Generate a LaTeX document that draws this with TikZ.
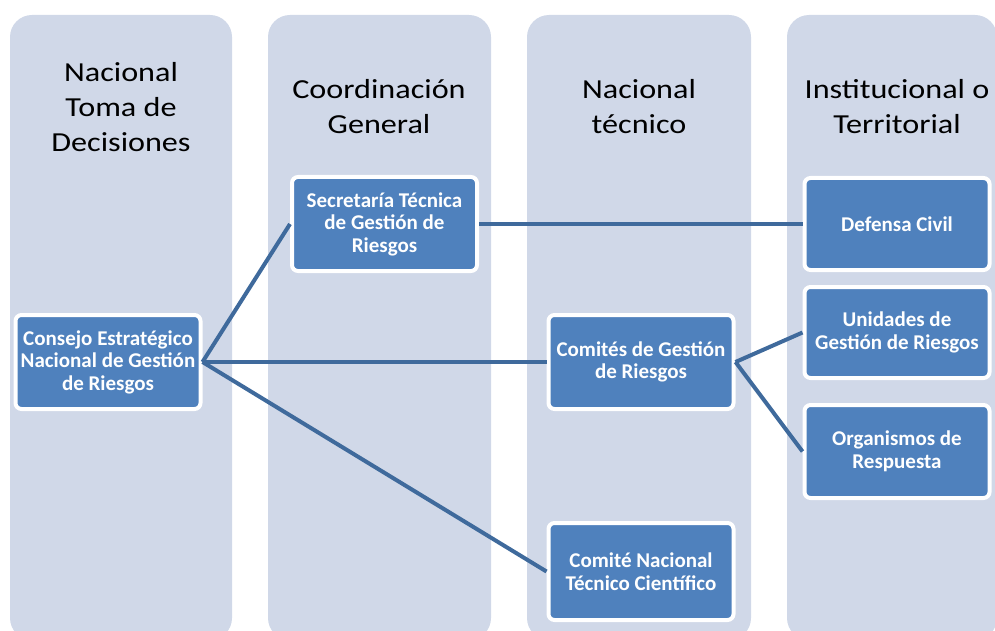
\documentclass[tikz,border=0pt]{standalone}
\usepackage{fontspec}
\setmainfont{Carlito}
\newfontfamily\titlefont[FakeStretch=1.17]{Carlito}
\definecolor{colbg}{HTML}{D0D8E8}
\definecolor{boxblue}{HTML}{4F81BD}
\definecolor{linkblue}{HTML}{3F6A9C}
\begin{document}
\begin{tikzpicture}[x=1pt,y=-1pt,
  col/.style={fill=colbg, rounded corners=22pt},
  box/.style={draw=white, line width=4pt, fill=boxblue, rounded corners=6pt,
    text=white, font=\bfseries\fontsize{21}{22.5}\selectfont, align=center,
    inner sep=0pt, minimum width=185pt, minimum height=94pt},
  coltitle/.style={font=\titlefont\fontsize{27.5}{35}\selectfont, align=center, text=black},
  link/.style={draw=linkblue, line width=4pt}]
\useasboundingbox (0,0) rectangle (995,631);
\clip (0,0) rectangle (995,631);
% columns
\fill[col] (10,15) rectangle (232,640);
\fill[col] (268,15) rectangle (491,640);
\fill[col] (527,15) rectangle (751,640);
\fill[col] (787,15) rectangle (997,640);
% column titles
\node[coltitle] (t1) at (121,107) {Nacional\\Toma de\\Decisiones};
\node[coltitle] (t2) at (379,107) {Coordinación\\General};
\node[coltitle] (t3) at (639,107) {Nacional\\técnico};
\node[coltitle] (t4) at (897,107) {Institucional o\\Territorial};
% boxes
\node[box] (cons) at (108,362) {Consejo Estratégico\\Nacional de Gestión\\de Riesgos};
\node[box] (sec) at (384.5,224) {Secretaría Técnica\\de Gestión de\\Riesgos};
\node[box] (com) at (641,362) {Comités de Gestión\\de Riesgos};
\node[box, minimum height=97pt] (cnt) at (641,571.5) {Comité Nacional\\Técnico Científico};
\node[box, minimum height=92pt] (def) at (897,224) {Defensa Civil};
\node[box, minimum height=91pt] (uni) at (897,332.5) {Unidades de\\Gestión de Riesgos};
\node[box, minimum height=93pt] (org) at (897,451.5) {Organismos de\\Respuesta};
% links
\draw[link] (cons.east) -- (sec.west);
\draw[link] (cons.east) -- (com.west);
\draw[link] (cons.east) -- (cnt.west);
\draw[link] (sec.east) -- (def.west);
\draw[link] (com.east) -- (uni.west);
\draw[link] (com.east) -- (org.west);
\end{tikzpicture}
\end{document}
